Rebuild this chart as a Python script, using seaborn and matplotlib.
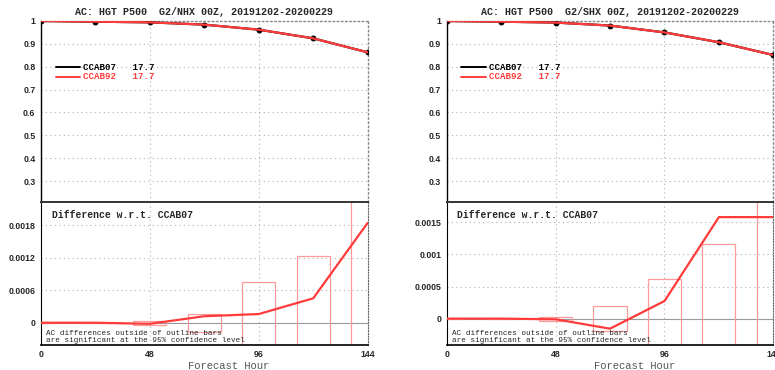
import matplotlib
matplotlib.use("Agg")
import matplotlib.pyplot as plt
import seaborn as sns
import pandas as pd

# forecast hours
hours = [0, 24, 48, 72, 96, 120, 144]

# anomaly correlation, NHX / SHX
ac_nhx_ccab07 = [1.0, 0.997, 0.994, 0.984, 0.962, 0.924, 0.863]
ac_nhx_ccab92 = [1.0, 0.997, 0.994, 0.984, 0.962, 0.924, 0.863]
ac_shx_ccab07 = [1.0, 0.997, 0.993, 0.980, 0.950, 0.907, 0.851]
ac_shx_ccab92 = [1.0, 0.997, 0.993, 0.980, 0.950, 0.907, 0.851]

# CCAB92 - CCAB07 differences and 95% confidence half-widths
diff_nhx = [0.0, 0.0, -0.00002, 0.00012, 0.00016, 0.00045, 0.00184]
ci_nhx = [0.0, 0.0, 0.00004, 0.00017, 0.00075, 0.00123, 0.0030]
diff_shx = [0.0, 0.0, -0.00001, -0.000156, 0.000274, 0.00158, 0.00158]
ci_shx = [0.0, 0.0, 0.00003, 0.00019, 0.00062, 0.00116, 0.0025]

skill_scores = ["17.7", "17.7"]
model_names = ["CCAB07", "CCAB92"]
regions = ["NHX", "SHX"]
period = "20191202-20200229"

ac_ticks = [0.3, 0.4, 0.5, 0.6, 0.7, 0.8, 0.9, 1.0]
ac_ticklabels = ["0.3", "0.4", "0.5", "0.6", "0.7", "0.8", "0.9", "1"]
diff_ticks = {
    "NHX": ([0, 0.0006, 0.0012, 0.0018], ["0", "0.0006", "0.0012", "0.0018"]),
    "SHX": ([0, 0.0005, 0.001, 0.0015], ["0", "0.0005", "0.001", "0.0015"]),
}
diff_ylim = {"NHX": (-0.00041, 0.00223), "SHX": (-0.00041, 0.00182)}

sns.set_style("white")
plt.rcParams["font.family"] = ["Liberation Sans", "DejaVu Sans"]

RED = "#ff3b3b"
BAR = "#ff9a9a"
GRID = "#b0b0b0"
MONO = "Liberation Mono"

fig = plt.figure(figsize=(7.75, 3.7), dpi=100)

panels = [
    (0.0529, "NHX", ac_nhx_ccab07, ac_nhx_ccab92, diff_nhx, ci_nhx),
    (0.5764, "SHX", ac_shx_ccab07, ac_shx_ccab92, diff_shx, ci_shx),
]

for left, region, ac07, ac92, diff, ci in panels:
    ax_top = fig.add_axes([left, 0.4549, 0.4215, 0.4884])
    ax_bot = fig.add_axes([left, 0.0676, 0.4215, 0.3873])

    # ---- upper panel: anomaly correlation ----
    df = pd.DataFrame({"hour": hours * 2,
                       "ac": ac07 + ac92,
                       "model": [model_names[0]] * 7 + [model_names[1]] * 7})
    sns.lineplot(data=df[df.model == model_names[0]], x="hour", y="ac", ax=ax_top,
                 color="black", lw=1.6, marker="o", markersize=3.5,
                 markeredgecolor="black", zorder=3)
    sns.lineplot(data=df[df.model == model_names[1]], x="hour", y="ac", ax=ax_top,
                 color=RED, lw=1.6, zorder=4)
    ax_top.set_xlim(0, 144)
    ax_top.set_ylim(0.21, 1.0)
    ax_top.set_yticks(ac_ticks)
    ax_top.set_yticklabels(ac_ticklabels)
    ax_top.set_xticks([0, 48, 96, 144])
    ax_top.tick_params(axis="x", bottom=False, labelbottom=False)
    ax_top.tick_params(axis="y", length=2.5, width=0.8, pad=1.5, labelsize=6.3)
    for lab in ax_top.get_yticklabels():
        lab.set_fontweight("bold")
    ax_top.set_xlabel("")
    ax_top.set_ylabel("")
    for y in ac_ticks[:-1]:
        ax_top.axhline(y, color=GRID, lw=0.8, ls=(0, (1, 3)), zorder=1)
    for x in [48, 96]:
        ax_top.axvline(x, color=GRID, lw=0.8, ls=(0, (1, 3)), zorder=1)
    ax_top.spines["left"].set_color("black")
    ax_top.spines["left"].set_linewidth(1.0)
    for side in ["top", "right"]:
        ax_top.spines[side].set_color("#888888")
        ax_top.spines[side].set_linestyle((0, (1, 2)))
        ax_top.spines[side].set_linewidth(1.0)
    ax_top.spines["bottom"].set_visible(False)
    ax_top.set_title(f"AC: HGT P500  G2/{region} 00Z, {period}",
                     family=MONO, fontweight="bold", fontsize=7.2, pad=4)

    # legend drawn as lines + text
    for i, (name, col) in enumerate(zip(model_names, ["black", RED])):
        yy = 0.745 - i * 0.055
        ax_top.plot([0.045, 0.12], [yy, yy], transform=ax_top.transAxes,
                    color=col, lw=1.4)
        ax_top.text(0.13, yy, f"{name}   {skill_scores[i]}", transform=ax_top.transAxes,
                    family=MONO, fontweight="bold", fontsize=6.6, color=col,
                    va="center", ha="left")

    # ---- lower panel: differences ----
    ax_bot.bar(hours, [2 * c for c in ci], bottom=[-c for c in ci], width=14.6,
               fill=False, edgecolor=BAR, linewidth=0.9, zorder=2)
    sns.lineplot(x=hours, y=diff, ax=ax_bot, color=RED, lw=1.6, zorder=4)
    ax_bot.axhline(0, color="#999999", lw=0.8, zorder=1)
    yt, yl = diff_ticks[region]
    for y in yt[1:]:
        ax_bot.axhline(y, color=GRID, lw=0.8, ls=(0, (1, 3)), zorder=1)
    for x in [48, 96]:
        ax_bot.axvline(x, color=GRID, lw=0.8, ls=(0, (1, 3)), zorder=1)
    ax_bot.set_xlim(0, 144)
    ax_bot.set_ylim(*diff_ylim[region])
    ax_bot.set_yticks(yt)
    ax_bot.set_yticklabels(yl)
    ax_bot.set_xticks([0, 48, 96, 144])
    ax_bot.set_xticklabels(["0", "48", "96", "144"])
    ax_bot.tick_params(axis="y", length=2.5, width=0.8, pad=1.5, labelsize=6.3)
    ax_bot.tick_params(axis="x", length=2.5, width=0.8, pad=0.8, labelsize=6.3)
    for lab in ax_bot.get_yticklabels() + ax_bot.get_xticklabels():
        lab.set_fontweight("bold")
    ax_bot.spines["left"].set_color("black")
    ax_bot.spines["bottom"].set_color("black")
    ax_bot.spines["bottom"].set_linewidth(1.2)
    ax_bot.spines["top"].set_color("#333333")
    ax_bot.spines["top"].set_linewidth(1.4)
    ax_bot.spines["right"].set_color("#666666")
    ax_bot.spines["right"].set_linestyle((0, (1, 1.5)))
    ax_bot.text(0.033, 0.91, f"Difference w.r.t. {model_names[0]}",
                transform=ax_bot.transAxes, family=MONO, fontweight="bold",
                fontsize=7.0, va="center", ha="left")
    ax_bot.text(0.016, 0.055,
                "AC differences outside of outline bars\nare significant at the 95% confidence level",
                transform=ax_bot.transAxes, family=MONO, fontsize=5.5,
                va="center", ha="left", linespacing=1.0)
    ax_bot.set_ylabel("")
    ax_bot.set_xlabel("Forecast Hour", family=MONO, fontsize=7.6,
                      color="#555555", labelpad=3)
    ax_bot.xaxis.set_label_coords(0.575, -0.11)

fig.savefig("out.png", dpi=100)
